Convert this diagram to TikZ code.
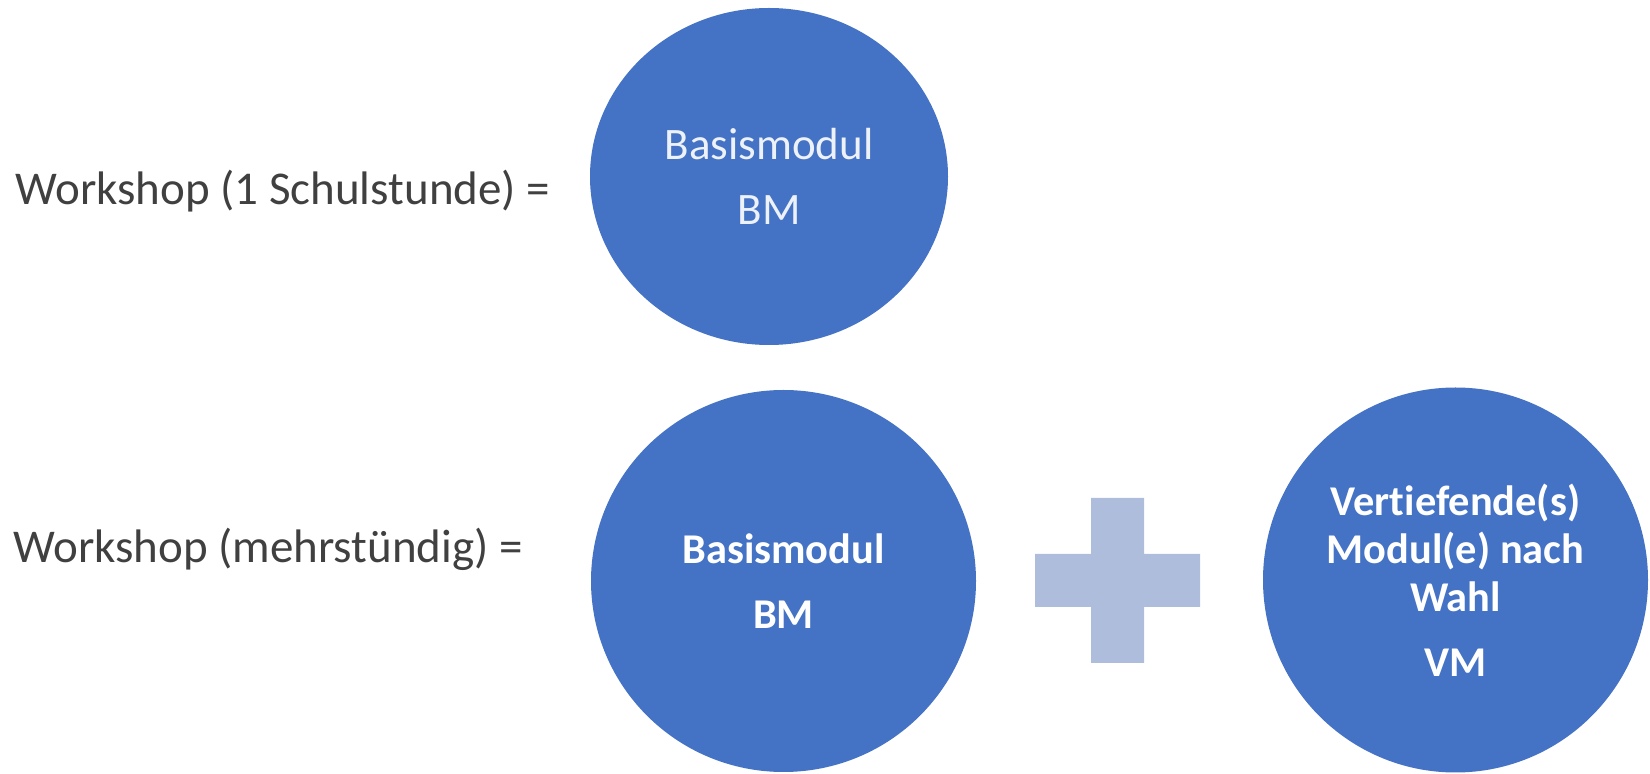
\documentclass[tikz,border=0pt]{standalone}
\usepackage{fontspec}
\setmainfont{Carlito}[Ligatures=NoCommon]
\usetikzlibrary{shapes.geometric}
\definecolor{modblue}{HTML}{4472C4}
\definecolor{plusblue}{HTML}{AFBDDD}
\definecolor{labelgray}{HTML}{404040}
\definecolor{softwhite}{HTML}{EDF1F8}
\tikzset{
  modcircle/.style={ellipse, fill=modblue, draw=none, inner sep=0pt, align=center,
    font=\fontsize{21.2}{24}\selectfont\bfseries, text=white},
  rowlabel/.style={anchor=base west, inner sep=0pt, text=labelgray,
    font=\fontsize{23.5}{28}\selectfont}
}
\begin{document}
\begin{tikzpicture}[x=0.5pt, y=-0.5pt]
\useasboundingbox (0,0) rectangle (1650,774);
% row labels
\node[rowlabel] (lab1) at (15,205) {Workshop (1 Schulstunde) =};
\node[rowlabel] (lab2) at (13,563) {Workshop (mehrstündig) =};
% first row
\node[modcircle, minimum width=179pt, minimum height=168.5pt, text=softwhite,
  font=\fontsize{22.5}{27}\selectfont] (bm1) at (769,176.5)
  {Basismodul\\[5.5pt]BM};
% second row
\node[modcircle, minimum width=192.5pt, minimum height=191pt] (bm2) at (783.5,581)
  {Basismodul\\[8.5pt]BM};
\node[modcircle, minimum width=192.5pt, minimum height=192.5pt] (vm) at (1455.5,580)
  {Vertiefende(s)\\Modul(e) nach\\Wahl\\[8.5pt]VM};
% plus sign
\fill[plusblue] (1091,498) -- (1144,498) -- (1144,554) -- (1200,554) -- (1200,607)
  -- (1144,607) -- (1144,663) -- (1091,663) -- (1091,607) -- (1035,607)
  -- (1035,554) -- (1091,554) -- cycle;
\end{tikzpicture}
\end{document}
